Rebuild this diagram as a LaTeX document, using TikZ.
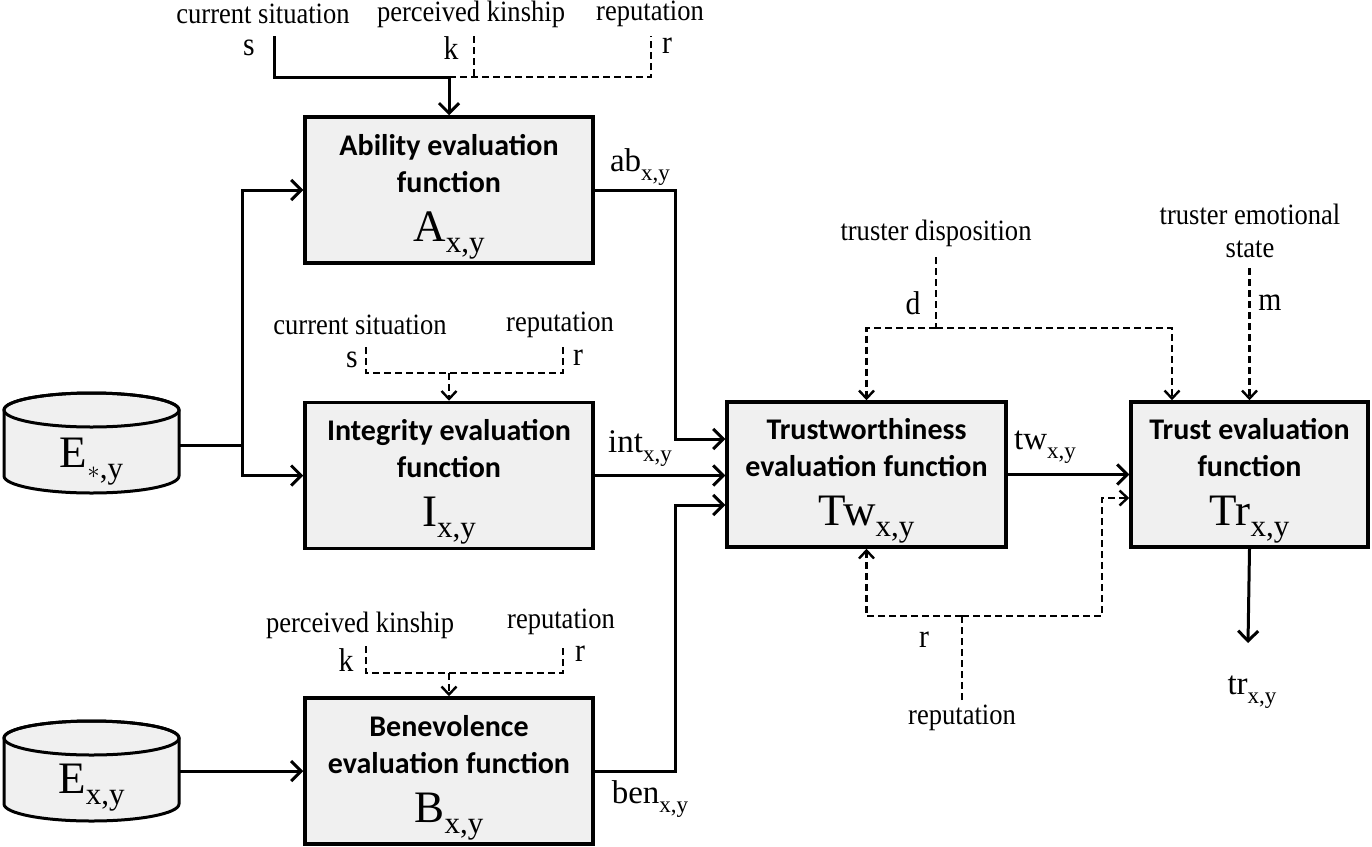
\documentclass[tikz,border=0pt]{standalone}
\usepackage{fontspec}
\setmainfont{Liberation Serif}
\newfontfamily\boxfont{Carlito}
\newfontfamily\lblfont[FakeStretch=0.9]{Liberation Serif}
\usepackage{tikz}
\usetikzlibrary{arrows.meta,positioning}

\newcommand{\bigfn}[2]{{\normalfont\fontsize{45}{45}\selectfont #1\raisebox{-11pt}{\fontsize{31}{31}\selectfont #2}}}
\newcommand{\outlbl}[2]{{\normalfont\fontsize{33}{33}\selectfont #1\raisebox{-9pt}{\fontsize{23}{23}\selectfont #2}}}
\newcommand{\topgap}{\rule{0pt}{34pt}}
\newcommand{\drum}[2]{%
  \draw[line width=3pt, fill=black!6] (#1-87.5,#2+33) -- (#1-87.5,#2-33)
    arc[start angle=180, end angle=360, x radius=87.5pt, y radius=17pt]
    -- (#1+87.5,#2+33)
    arc[start angle=0, end angle=180, x radius=87.5pt, y radius=17pt] -- cycle;
  \draw[line width=3pt] (#1,#2+33) ellipse[x radius=87.5pt, y radius=17pt];}

\begin{document}
\begin{tikzpicture}[
    x=1pt, y=1pt,
    fnbox/.style={rectangle, draw, line width=3.5pt, fill=black!6, align=center, inner sep=0pt,
      font=\boxfont\bfseries\fontsize{30}{37}\selectfont, minimum width=288pt, minimum height=146pt},
    store/.style={minimum width=175pt, minimum height=100pt, inner sep=0pt},
    lbl/.style={font=\lblfont\fontsize{29.5}{33}\selectfont, inner sep=0pt, align=center},
    var/.style={font=\lblfont\fontsize{33}{33}\selectfont, inner sep=0pt},
    arrow/.style={-{Straight Barb[length=10pt,width=20pt]}, line width=3pt},
    plain/.style={line width=3pt},
    opt/.style={dash pattern=on 7pt off 4pt, line width=2.4pt},
    optarrow/.style={opt, -{Straight Barb[length=8pt,width=15pt]}}
]
    \useasboundingbox (0,0) rectangle (1372,-846);

    % evaluation functions
    \node[fnbox] (abil) at (449,-190) {\topgap Ability evaluation\\function\\[12pt]\bigfn{A}{x,y}};
    \node[fnbox] (integ) at (449,-475.5) {\topgap Integrity evaluation\\function\\[12pt]\bigfn{I}{x,y}};
    \node[fnbox] (benev) at (449,-771) {\topgap Benevolence\\evaluation function\\[12pt]\bigfn{B}{x,y}};
    \node[fnbox, minimum width=279pt, minimum height=145pt] (trustw) at (866.5,-474.5) {\topgap Trustworthiness\\evaluation function\\[12pt]\bigfn{Tw}{x,y}};
    \node[fnbox, minimum width=237pt, minimum height=145pt] (trust) at (1249.5,-474.5) {\topgap Trust evaluation\\function\\[12pt]\bigfn{Tr}{x,y}};

    % experience stores
    \drum{91.5}{-443}
    \node[store] (estar) at (91.5,-445) {\raisebox{-22pt}[0pt][0pt]{\bigfn{E}{$\ast$,y}}};
    \drum{91.5}{-771}
    \node[store] (exy) at (91.5,-771) {\raisebox{-22pt}[0pt][0pt]{\bigfn{E}{x,y}}};

    \coordinate (bus) at (242,-445);
    \draw[plain] (estar.east) -- (bus);
    \draw[arrow] (bus) |- (abil.west);
    \draw[arrow] (bus) |- (integ.west);
    \draw[arrow] (exy) -- (benev);

    % ability inputs
    \node[lbl] (sitA) at (263,-14) {current situation};
    \node[lbl] (kinA) at (471,-14) {perceived kinship};
    \node[lbl] (repA) at (650,-14) {reputation};
    \node[var] (sA) at (249,-48) {s};
    \node[var] (kA) at (451,-48) {k};
    \node[var] (rA) at (667,-46) {r};
    \coordinate (sAin) at (274,-36);
    \coordinate (kAin) at (474,-36);
    \coordinate (rAin) at (651,-36);
    \coordinate (jA) at (449,-77);
    \draw[plain] (sAin) |- (jA);
    \draw[opt] (jA) -- (rAin |- jA) -- (rAin);
    \draw[opt] (kAin) -- (kAin |- jA);
    \draw[arrow] (jA) -- (abil);

    % integrity inputs
    \node[lbl] (sitI) at (360,-325) {current situation};
    \node[lbl] (repI) at (560,-325) {reputation};
    \node[var] (sI) at (352,-360) {s};
    \node[var] (rI) at (578,-358) {r};
    \coordinate (sIin) at (366,-347);
    \coordinate (rIin) at (563,-347);
    \coordinate (jI) at (449,-373);
    \draw[opt] (sIin) |- (rIin |- jI) -- (rIin);
    \draw[optarrow] (jI) -- (integ);

    % benevolence inputs
    \node[lbl] (kinB) at (360,-625) {perceived kinship};
    \node[lbl] (repB) at (561,-622) {reputation};
    \node[var] (kB) at (346,-660) {k};
    \node[var] (rB) at (580,-654) {r};
    \coordinate (kBin) at (366,-646);
    \coordinate (rBin) at (563,-646);
    \coordinate (jB) at (449,-673);
    \draw[opt] (kBin) |- (rBin |- jB) -- (rBin);
    \draw[optarrow] (jB) -- (benev);

    % outputs into trustworthiness
    \coordinate (abdrop) at (675,-190);
    \coordinate (bendrop) at (675,-771);
    \draw[arrow] (abil.east) -- (abdrop) |- ([yshift=35.5pt]trustw.west);
    \draw[arrow] (integ.east) -- (integ.east -| trustw.west);
    \draw[arrow] (benev.east) -- (bendrop) |- ([yshift=-30.5pt]trustw.west);
    \node (abL) at (640,-167) {\outlbl{ab}{x,y}};
    \node (intL) at (640,-449) {\outlbl{int}{x,y}};
    \node (benL) at (650,-799) {\outlbl{ben}{x,y}};

    \draw[arrow] (trustw) -- (trust);
    \node (twL) at (1045,-447) {\outlbl{tw}{x,y}};

    % disposition and emotional state
    \node[lbl] (dispo) at (936,-233) {truster disposition};
    \node[var] (dL) at (913,-303) {d};
    \coordinate (dIn) at (936,-257);
    \coordinate (dJ) at (936,-328);
    \draw[opt] (dIn) -- (dJ);
    \draw[optarrow] (dJ) -| (trustw.north);
    \draw[optarrow] (dJ) -| ([xshift=-77.5pt]trust.north);
    \node[lbl] (emo) at (1250,-231) {truster emotional\\state};
    \node[var] (mL) at (1270,-303) {m};
    \coordinate (mIn) at (1249.5,-268);
    \draw[optarrow] (mIn) -- (trust.north);

    % reputation feedback
    \node[lbl] (repT) at (962,-718) {reputation};
    \node[var] (rT) at (924,-640) {r};
    \coordinate (rIn) at (962,-700);
    \coordinate (rJ) at (962,-616);
    \coordinate (rTurn) at (1102,-616);
    \draw[opt] (rIn) -- (rJ);
    \draw[optarrow] (rJ) -| (trustw.south);
    \draw[optarrow] (rJ) -- (rTurn) |- ([yshift=-23.5pt]trust.west);

    % trust output
    \coordinate (trTip) at (1248,-643);
    \draw[arrow] (trust.south) -- (trTip);
    \node (trL) at (1252,-692) {\outlbl{tr}{x,y}};
\end{tikzpicture}
\end{document}
